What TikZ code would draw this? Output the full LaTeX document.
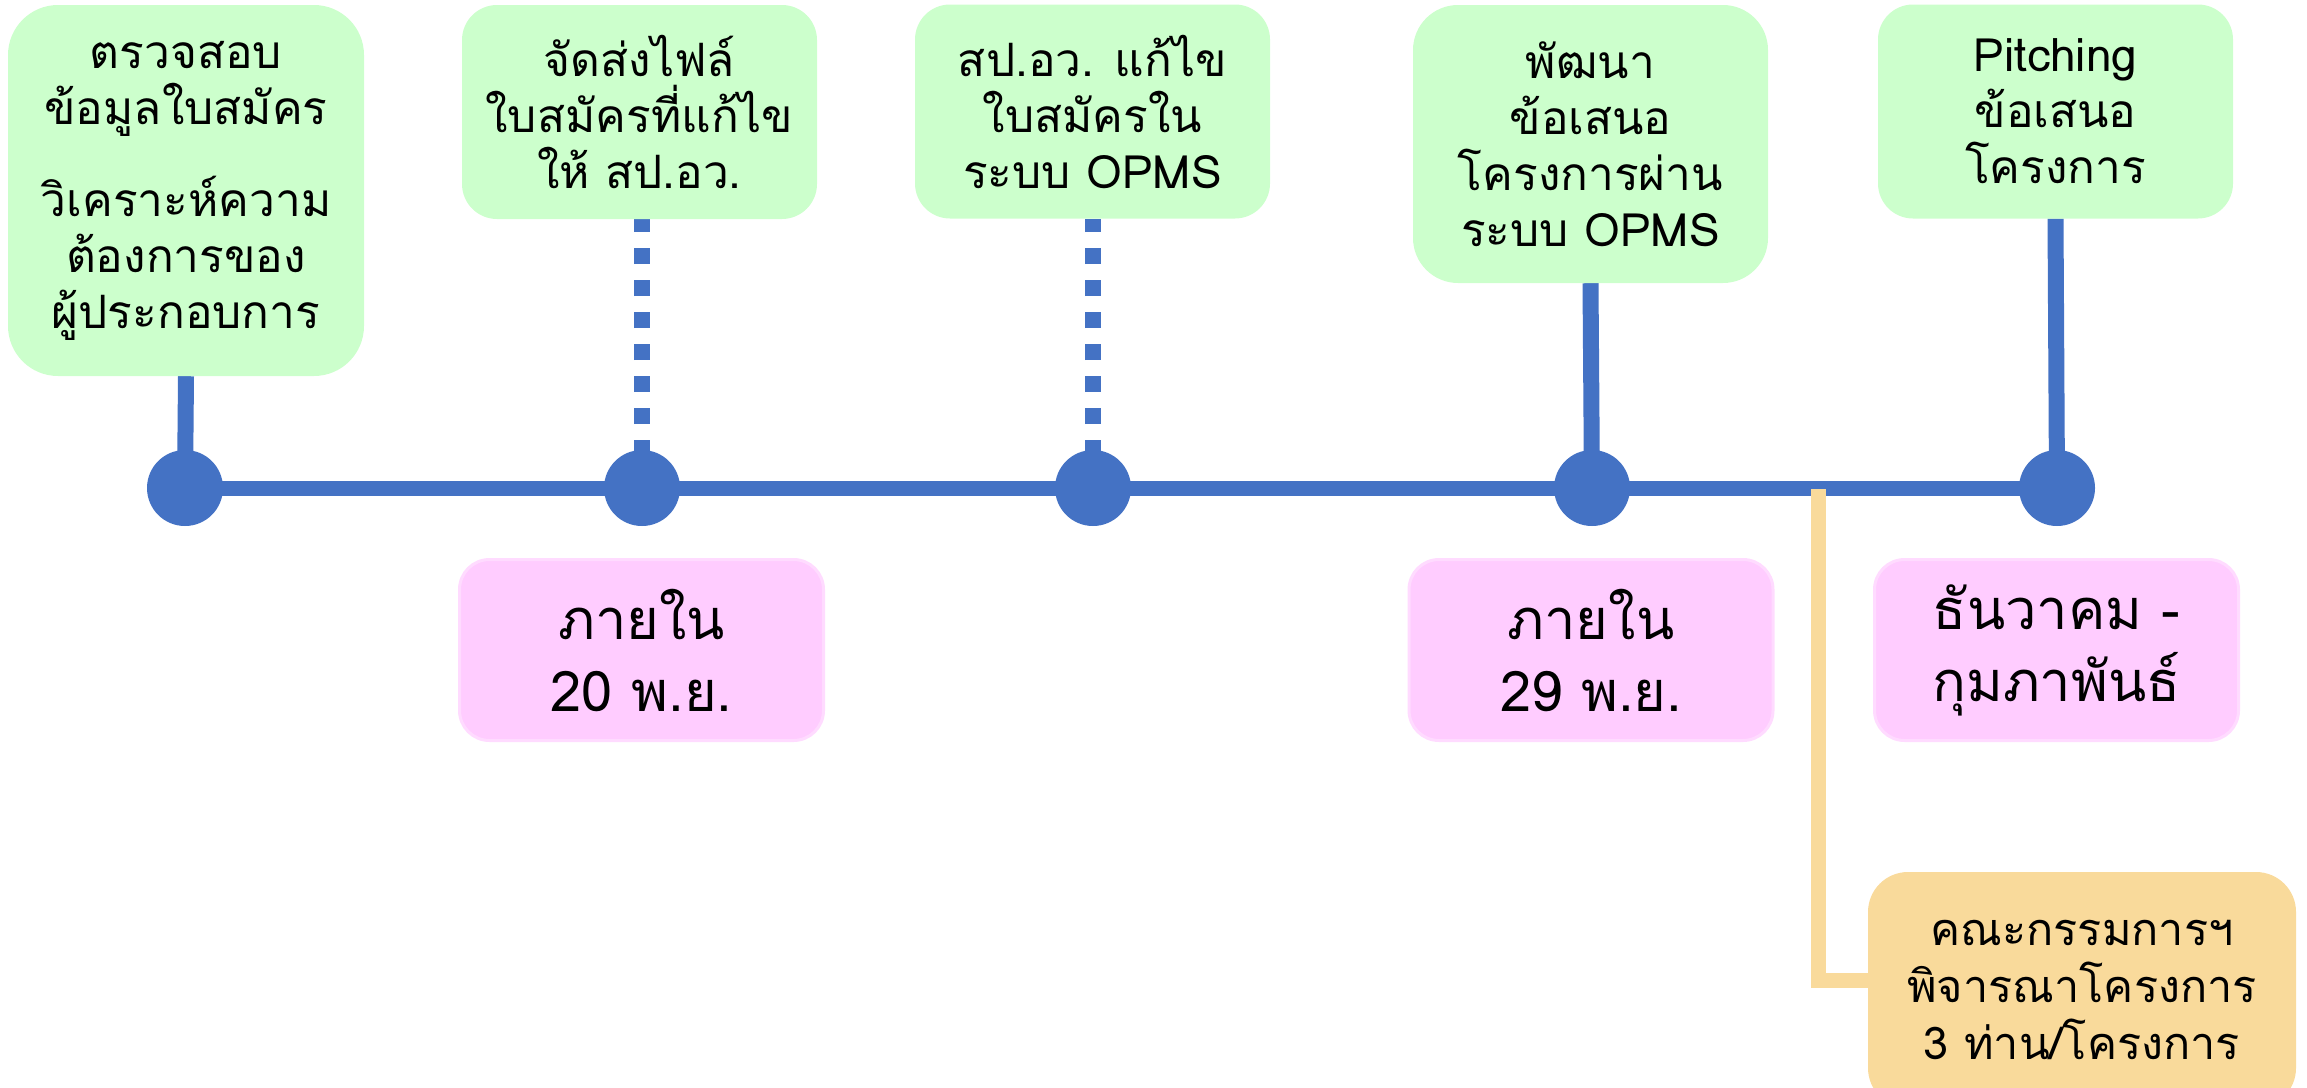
\documentclass[tikz,border=0pt]{standalone}
\usepackage{fontspec}
\setmainfont[Script=Thai]{Loma}
\usetikzlibrary{positioning}
\pgfdeclarelayer{background}
\pgfsetlayers{background,main}
\definecolor{tlblue}{HTML}{4472C4}
\definecolor{tlgreen}{HTML}{CCFFCC}
\definecolor{tlpink}{HTML}{FFCCFF}
\definecolor{tlorange}{HTML}{F9DA9B}
\tikzset{
  x=1pt, y=-1pt,
  greenbox/.style={fill=tlgreen, draw=none, align=center, inner sep=0pt,
    font=\fontsize{46}{56}\selectfont},
  pinkbox/.style={fill=tlpink, draw=tlpink!70!white, line width=3pt, align=center, inner sep=0pt,
    rounded corners=30pt, minimum width=364pt, minimum height=181pt,
    font=\fontsize{56}{72}\selectfont},
  orangebox/.style={fill=tlorange, draw=none, align=center, inner sep=0pt,
    rounded corners=40pt, minimum width=428pt, minimum height=236pt,
    font=\fontsize{45}{57}\selectfont},
  dot/.style={circle, fill=tlblue, draw=none, minimum size=76pt, inner sep=0pt},
  solidlink/.style={draw=tlblue, line width=16pt},
  dottedlink/.style={draw=tlblue, line width=16pt, dash pattern=on 16pt off 16pt},
  axisline/.style={draw=tlblue, line width=15pt},
  orangelink/.style={draw=tlorange, line width=15pt},
}
\begin{document}
\begin{tikzpicture}
\useasboundingbox (0,0) rectangle (2307,1087);
% green boxes
\node[greenbox, rounded corners=50pt, minimum width=356pt, minimum height=371pt] (b1) at (186,190.5)
  {ตรวจสอบ\\ข้อมูลใบสมัคร\\[36pt]วิเคราะห์ความ\\ต้องการของ\\ผู้ประกอบการ};
\node[greenbox, rounded corners=35pt, minimum width=355pt, minimum height=214pt] (b2) at (639.5,112)
  {จัดส่งไฟล์\\ใบสมัครที่แก้ไข\\ให้ สป.อว.};
\node[greenbox, rounded corners=35pt, minimum width=355pt, minimum height=214pt] (b3) at (1092.5,111.5)
  {สป.อว. แก้ไข\\ใบสมัครใน\\ระบบ OPMS};
\node[greenbox, rounded corners=45pt, minimum width=355pt, minimum height=278pt] (b4) at (1590.5,144)
  {พัฒนา\\ข้อเสนอ\\โครงการผ่าน\\ระบบ OPMS};
\node[greenbox, rounded corners=35pt, minimum width=355pt, minimum height=214pt] (b5) at (2055.5,111.5)
  {Pitching\\ข้อเสนอ\\โครงการ};
% timeline dots
\node[dot] (c1) at (185,488) {};
\node[dot] (c2) at (642,488) {};
\node[dot] (c3) at (1093,488) {};
\node[dot] (c4) at (1592,488) {};
\node[dot] (c5) at (2057,488) {};
\coordinate (tap) at (1818,489);
\coordinate (bend) at (1818,980);
% pink date boxes
\node[pinkbox] (p1) at (641.5,650) {ภายใน\\20 พ.ย.};
\node[pinkbox] (p2) at (1591,650) {ภายใน\\29 พ.ย.};
\node[pinkbox] (p3) at (2056.5,650) {ธันวาคม -\\กุมภาพันธ์};
% orange box
\node[orangebox] (o1) at (2082,990) {คณะกรรมการฯ\\พิจารณาโครงการ\\3 ท่าน/โครงการ};
\begin{pgfonlayer}{background}
  \draw[axisline] (c1.center) -- (c5.center);
  \draw[solidlink] (b1.south) -- (c1.center);
  \draw[dottedlink] (c2.center) -- (c2.center |- b2.south);
  \draw[dottedlink] (c3.center) -- (c3.center |- b3.south);
  \draw[solidlink] (b4.south) -- (c4.center);
  \draw[solidlink] (b5.south) -- (c5.center);
  \draw[orangelink] (tap) -- (bend) -- (bend -| o1.west);
\end{pgfonlayer}
\end{tikzpicture}
\end{document}
